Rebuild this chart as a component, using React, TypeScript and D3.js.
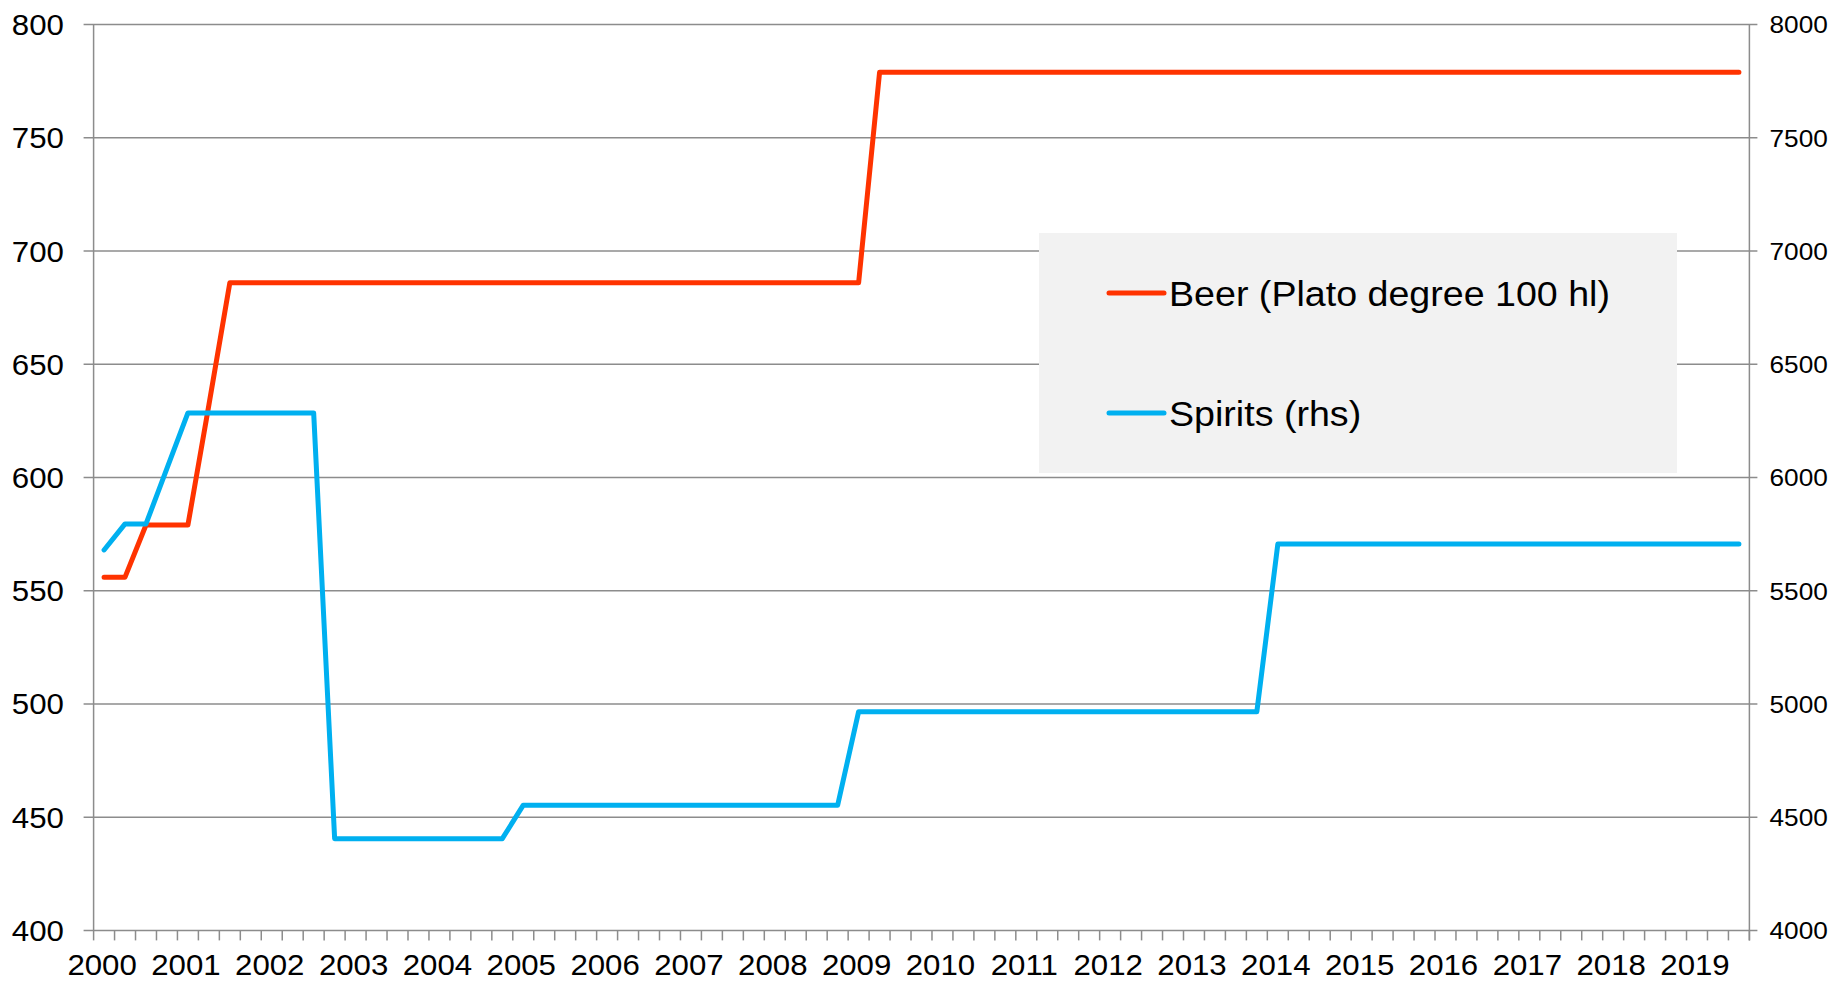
import React from "react";
import * as d3 from "d3";

// Tick labels (one per year, at Q1)
const years = ["2000","2001","2002","2003","2004","2005","2006","2007","2008","2009","2010","2011","2012","2013","2014","2015","2016","2017","2018","2019"];
const quarters = ["Q1","Q2","Q3","Q4"];
// 79 quarterly categories: 2000Q1 .. 2019Q3
const categories: string[] = years.flatMap((y) => quarters.map((q) => y + q)).slice(0, 79);

// Beer (Plato degree 100 hl), left axis
const beer = [
  556, 556, 579, 579, 579, 632, 686, 686, 686, 686,
  686, 686, 686, 686, 686, 686, 686, 686, 686, 686,
  686, 686, 686, 686, 686, 686, 686, 686, 686, 686,
  686, 686, 686, 686, 686, 686, 686, 779, 779, 779,
  779, 779, 779, 779, 779, 779, 779, 779, 779, 779,
  779, 779, 779, 779, 779, 779, 779, 779, 779, 779,
  779, 779, 779, 779, 779, 779, 779, 779, 779, 779,
  779, 779, 779, 779, 779, 779, 779, 779, 779,
];

// Spirits (rhs), right axis
const spirits = [
  5680, 5795, 5795, 6040, 6285, 6285, 6285, 6285, 6285, 6285,
  6285, 4405, 4405, 4405, 4405, 4405, 4405, 4405, 4405, 4405,
  4553, 4553, 4553, 4553, 4553, 4553, 4553, 4553, 4553, 4553,
  4553, 4553, 4553, 4553, 4553, 4553, 4966, 4966, 4966, 4966,
  4966, 4966, 4966, 4966, 4966, 4966, 4966, 4966, 4966, 4966,
  4966, 4966, 4966, 4966, 4966, 4966, 5706, 5706, 5706, 5706,
  5706, 5706, 5706, 5706, 5706, 5706, 5706, 5706, 5706, 5706,
  5706, 5706, 5706, 5706, 5706, 5706, 5706, 5706, 5706,
];

const leftTicks = [400, 450, 500, 550, 600, 650, 700, 750, 800];
const rightTicks = [4000, 4500, 5000, 5500, 6000, 6500, 7000, 7500, 8000];

const W = 1835, H = 981;
const X0 = 93.6, X1 = 1749.4, YT = 24.6, YB = 930.4;
const FONT = "'Liberation Sans', Arial, Helvetica, sans-serif";
const GRID = "#8c8c8c";
const RED = "#ff3300";
const BLUE = "#00b0f0";

export default function App() {
  const x = d3.scaleBand<string>().domain(categories).range([X0, X1]).padding(0);
  const bw = x.bandwidth();
  const cx = (c: string) => (x(c) as number) + bw / 2;
  const yL = d3.scaleLinear().domain([400, 800]).range([YB, YT]);
  const yR = d3.scaleLinear().domain([4000, 8000]).range([YB, YT]);

  const beerLine = d3.line<number>().x((_, i) => cx(categories[i])).y((d) => yL(d));
  const spiritsLine = d3.line<number>().x((_, i) => cx(categories[i])).y((d) => yR(d));

  const tickXs = categories.map((c) => x(c) as number).concat([X1]);

  return (
    <svg width={W} height={H} style={{ position: "absolute", left: 0, top: 0, display: "block", background: "#fff" }}>
      {/* gridlines */}
      {leftTicks.map((t) => (
        <line key={"g" + t} x1={X0 - 10} x2={X1 + 8} y1={yL(t)} y2={yL(t)} stroke={GRID} strokeWidth={1.5} />
      ))}
      {/* axes */}
      <line x1={X0} x2={X0} y1={YT} y2={YB} stroke={GRID} strokeWidth={1.5} />
      <line x1={X1} x2={X1} y1={YT} y2={YB + 10} stroke={GRID} strokeWidth={1.5} />
      {tickXs.map((tx, i) => (
        <line key={"xt" + i} x1={tx} x2={tx} y1={YB} y2={YB + 10} stroke={GRID} strokeWidth={1.5} />
      ))}
      {/* left labels */}
      {leftTicks.map((t) => (
        <text key={"l" + t} transform={`translate(64,${yL(t) + 10.5}) scale(1.06,1)`} textAnchor="end"
          fontFamily={FONT} fontSize={29.5} fill="#000">{t}</text>
      ))}
      {/* right labels */}
      {rightTicks.map((t) => (
        <text key={"r" + t} transform={`translate(1769.5,${yR(t) + 8.8}) scale(1.07,1)`} textAnchor="start"
          fontFamily={FONT} fontSize={24.5} fill="#000">{t}</text>
      ))}
      {/* x labels */}
      {years.map((yr) => (
        <text key={"x" + yr} transform={`translate(${cx(yr + "Q1") - 2},974.5) scale(1.04,1)`} textAnchor="middle"
          fontFamily={FONT} fontSize={30} fill="#000">{yr}</text>
      ))}
      {/* series */}
      <path d={beerLine(beer) || ""} fill="none" stroke={RED} strokeWidth={5} strokeLinejoin="round" strokeLinecap="round" />
      <path d={spiritsLine(spirits) || ""} fill="none" stroke={BLUE} strokeWidth={5} strokeLinejoin="round" strokeLinecap="round" />
      {/* legend */}
      <rect x={1039} y={233} width={638} height={240} fill="#f2f2f2" />
      <line x1={1109} x2={1164} y1={293} y2={293} stroke={RED} strokeWidth={5} strokeLinecap="round" />
      <text transform="translate(1169,306) scale(1.09,1)" fontFamily={FONT} fontSize={34.5} fill="#000">Beer (Plato degree 100 hl)</text>
      <line x1={1109} x2={1164} y1={413} y2={413} stroke={BLUE} strokeWidth={5} strokeLinecap="round" />
      <text transform="translate(1169,426) scale(1.09,1)" fontFamily={FONT} fontSize={34.5} fill="#000">Spirits (rhs)</text>
    </svg>
  );
}
